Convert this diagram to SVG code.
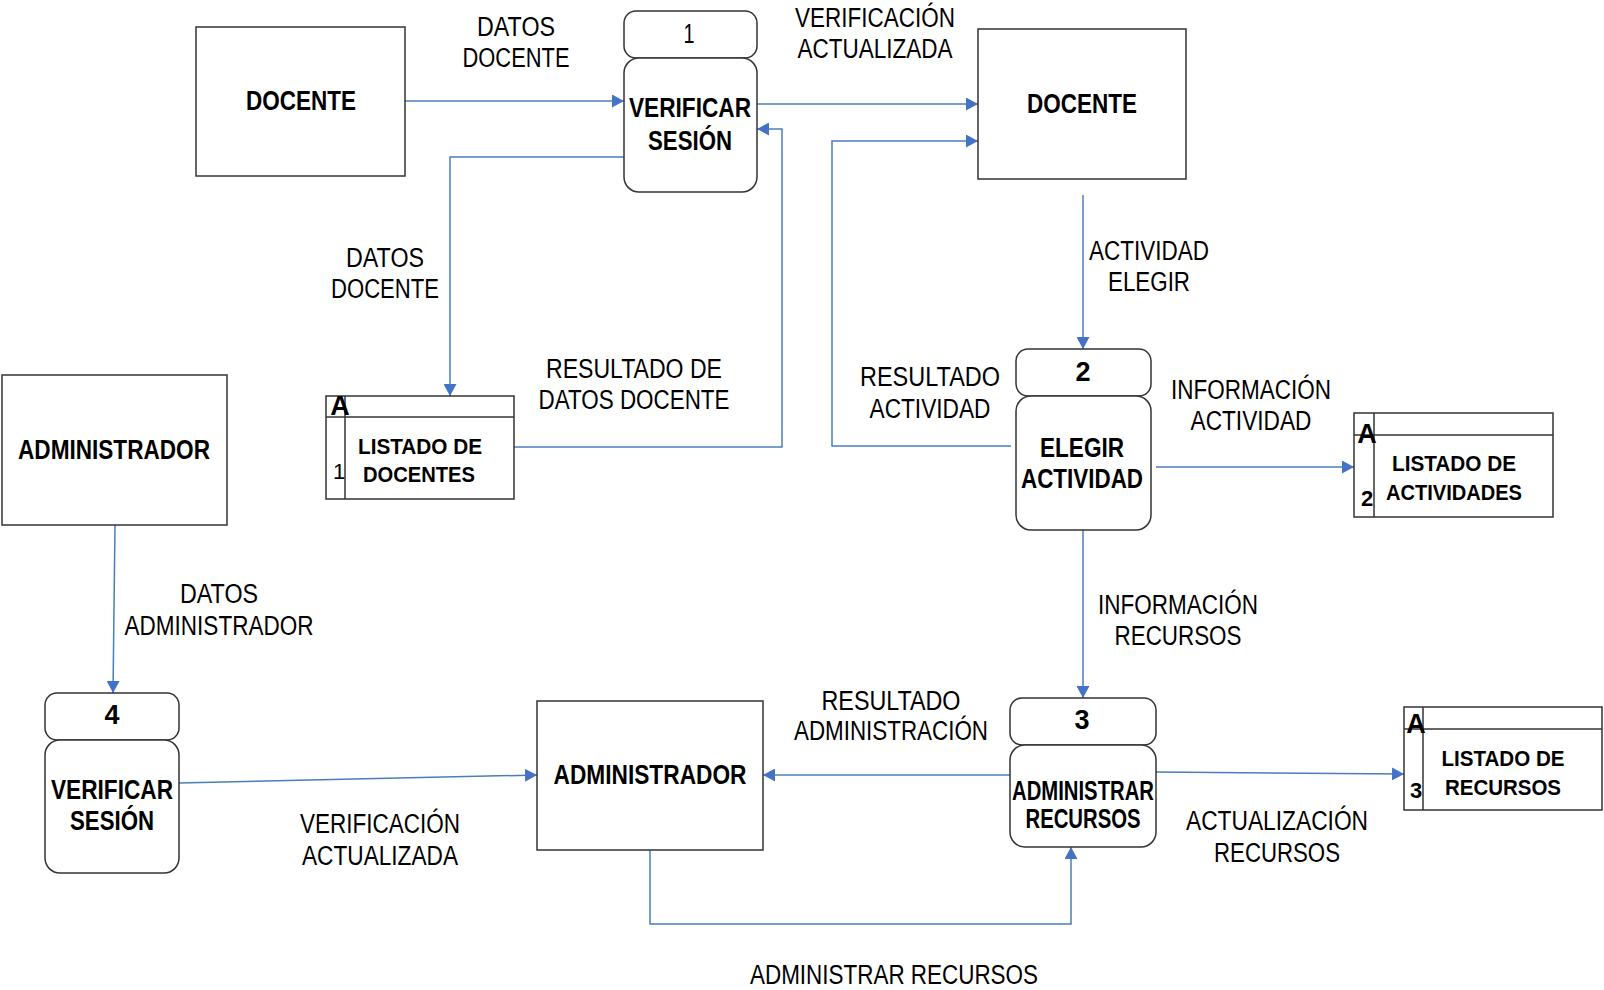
<svg xmlns="http://www.w3.org/2000/svg" width="1604" height="990" viewBox="0 0 1604 990">
<style>
.box{fill:#fff;stroke:#333;stroke-width:1.5}
.c{fill:none;stroke:#4a7ebb;stroke-width:1.5}
.lbl{font-family:"Liberation Sans",Arial,sans-serif;font-size:27px;fill:#000;text-anchor:middle}
.b{font-family:"Liberation Sans",Arial,sans-serif;font-weight:bold;font-size:27px;fill:#000;text-anchor:middle}
.s{font-family:"Liberation Sans",Arial,sans-serif;font-weight:bold;font-size:22px;fill:#000;text-anchor:middle}
.sn{font-family:"Liberation Sans",Arial,sans-serif;font-size:22px;fill:#000;text-anchor:middle}
</style>
<defs>
<marker id="ar" viewBox="0 0 12 13" refX="12" refY="6.5" markerWidth="12" markerHeight="13" markerUnits="userSpaceOnUse" orient="auto">
<path d="M0,0 L12,6.5 L0,13 z" fill="#4472c4"/>
</marker>
</defs>

<g id="connectors">
<path class="c" d="M405,101 H624" marker-end="url(#ar)"/>
<path class="c" d="M757,104 H978" marker-end="url(#ar)"/>
<path class="c" d="M624,157 H450 V396" marker-end="url(#ar)"/>
<path class="c" d="M514,447 H782 V129 H757" marker-end="url(#ar)"/>
<path class="c" d="M1011,446 H832 V141 H978" marker-end="url(#ar)"/>
<path class="c" d="M1083,195 V349" marker-end="url(#ar)"/>
<path class="c" d="M1156,467 H1354" marker-end="url(#ar)"/>
<path class="c" d="M1083,530 V698" marker-end="url(#ar)"/>
<path class="c" d="M1156,772 L1404,774" marker-end="url(#ar)"/>
<path class="c" d="M1010,775 H763" marker-end="url(#ar)"/>
<path class="c" d="M650,850 V924 H1071 V847" marker-end="url(#ar)"/>
<path class="c" d="M115,525 L113,693" marker-end="url(#ar)"/>
<path class="c" d="M179,783 L537,775" marker-end="url(#ar)"/>
</g>

<g id="labels">
<text class="lbl" x="516" y="36" textLength="78" lengthAdjust="spacingAndGlyphs">DATOS</text>
<text class="lbl" x="516" y="67" textLength="107" lengthAdjust="spacingAndGlyphs">DOCENTE</text>
<text class="lbl" x="875" y="27" textLength="160" lengthAdjust="spacingAndGlyphs">VERIFICACIÓN</text>
<text class="lbl" x="875" y="58" textLength="155" lengthAdjust="spacingAndGlyphs">ACTUALIZADA</text>
<text class="lbl" x="385" y="267" textLength="78" lengthAdjust="spacingAndGlyphs">DATOS</text>
<text class="lbl" x="385" y="298" textLength="108" lengthAdjust="spacingAndGlyphs">DOCENTE</text>
<text class="lbl" x="634" y="378" textLength="176" lengthAdjust="spacingAndGlyphs">RESULTADO DE</text>
<text class="lbl" x="634" y="409" textLength="191" lengthAdjust="spacingAndGlyphs">DATOS DOCENTE</text>
<text class="lbl" x="930" y="386" textLength="140" lengthAdjust="spacingAndGlyphs">RESULTADO</text>
<text class="lbl" x="930" y="418" textLength="121" lengthAdjust="spacingAndGlyphs">ACTIVIDAD</text>
<text class="lbl" x="1149" y="260" textLength="120" lengthAdjust="spacingAndGlyphs">ACTIVIDAD</text>
<text class="lbl" x="1149" y="291" textLength="82" lengthAdjust="spacingAndGlyphs">ELEGIR</text>
<text class="lbl" x="1251" y="399" textLength="160" lengthAdjust="spacingAndGlyphs">INFORMACIÓN</text>
<text class="lbl" x="1251" y="430" textLength="121" lengthAdjust="spacingAndGlyphs">ACTIVIDAD</text>
<text class="lbl" x="1178" y="614" textLength="160" lengthAdjust="spacingAndGlyphs">INFORMACIÓN</text>
<text class="lbl" x="1178" y="645" textLength="127" lengthAdjust="spacingAndGlyphs">RECURSOS</text>
<text class="lbl" x="219" y="603" textLength="78" lengthAdjust="spacingAndGlyphs">DATOS</text>
<text class="lbl" x="219" y="635" textLength="189" lengthAdjust="spacingAndGlyphs">ADMINISTRADOR</text>
<text class="lbl" x="891" y="710" textLength="139" lengthAdjust="spacingAndGlyphs">RESULTADO</text>
<text class="lbl" x="891" y="740" textLength="194" lengthAdjust="spacingAndGlyphs">ADMINISTRACIÓN</text>
<text class="lbl" x="380" y="833" textLength="160" lengthAdjust="spacingAndGlyphs">VERIFICACIÓN</text>
<text class="lbl" x="380" y="865" textLength="156" lengthAdjust="spacingAndGlyphs">ACTUALIZADA</text>
<text class="lbl" x="1277" y="830" textLength="182" lengthAdjust="spacingAndGlyphs">ACTUALIZACIÓN</text>
<text class="lbl" x="1277" y="862" textLength="126" lengthAdjust="spacingAndGlyphs">RECURSOS</text>
<text class="lbl" x="894" y="984" textLength="288" lengthAdjust="spacingAndGlyphs">ADMINISTRAR RECURSOS</text>
</g>

<g id="docente1">
<rect class="box" x="196" y="27" width="209" height="149"/>
<text class="b" x="301" y="110" textLength="110" lengthAdjust="spacingAndGlyphs">DOCENTE</text>
</g>

<g id="docente2">
<rect class="box" x="978" y="29" width="208" height="150"/>
<text class="b" x="1082" y="113" textLength="110" lengthAdjust="spacingAndGlyphs">DOCENTE</text>
</g>

<g id="administrador1">
<rect class="box" x="2" y="375" width="225" height="150"/>
<text class="b" x="114" y="459" textLength="192" lengthAdjust="spacingAndGlyphs">ADMINISTRADOR</text>
</g>

<g id="administrador2">
<rect class="box" x="537" y="701" width="226" height="149"/>
<text class="b" x="650" y="784" textLength="193" lengthAdjust="spacingAndGlyphs">ADMINISTRADOR</text>
</g>

<g id="proceso1">
<rect class="box" x="624" y="11" width="133" height="47" rx="12"/>
<rect class="box" x="624" y="58" width="133" height="134" rx="15"/>
<text class="lbl" x="689" y="43" textLength="11" lengthAdjust="spacingAndGlyphs">1</text>
<text class="b" x="690" y="117" textLength="122" lengthAdjust="spacingAndGlyphs">VERIFICAR</text>
<text class="b" x="690" y="150" textLength="84" lengthAdjust="spacingAndGlyphs">SESIÓN</text>
</g>

<g id="proceso2">
<rect class="box" x="1016" y="349" width="135" height="47" rx="12"/>
<rect class="box" x="1016" y="396" width="135" height="134" rx="15"/>
<text class="b" x="1083" y="381">2</text>
<text class="b" x="1082" y="457" textLength="84" lengthAdjust="spacingAndGlyphs">ELEGIR</text>
<text class="b" x="1082" y="488" textLength="122" lengthAdjust="spacingAndGlyphs">ACTIVIDAD</text>
</g>

<g id="proceso3">
<rect class="box" x="1010" y="698" width="146" height="47" rx="12"/>
<rect class="box" x="1010" y="745" width="146" height="102" rx="15"/>
<text class="b" x="1082" y="729">3</text>
<text class="b" x="1083" y="800" font-size="24" textLength="142" lengthAdjust="spacingAndGlyphs">ADMINISTRAR</text>
<text class="b" x="1083" y="828" font-size="24" textLength="115" lengthAdjust="spacingAndGlyphs">RECURSOS</text>
</g>

<g id="proceso4">
<rect class="box" x="45" y="693" width="134" height="47" rx="12"/>
<rect class="box" x="45" y="740" width="134" height="133" rx="15"/>
<text class="b" x="112" y="724">4</text>
<text class="b" x="112" y="799" textLength="122" lengthAdjust="spacingAndGlyphs">VERIFICAR</text>
<text class="b" x="112" y="830" textLength="84" lengthAdjust="spacingAndGlyphs">SESIÓN</text>
</g>

<g id="almacen1">
<rect class="box" x="326" y="396" width="188" height="103"/>
<line class="box" x1="326" y1="417" x2="514" y2="417"/>
<line class="box" x1="345" y1="396" x2="345" y2="499"/>
<text class="b" x="340" y="415" font-size="24">A</text>
<text class="sn" x="339" y="479" font-size="24">1</text>
<text class="s" x="420" y="454" textLength="124" lengthAdjust="spacingAndGlyphs">LISTADO DE</text>
<text class="s" x="419" y="482" textLength="112" lengthAdjust="spacingAndGlyphs">DOCENTES</text>
</g>

<g id="almacen2">
<rect class="box" x="1354" y="413" width="199" height="104"/>
<line class="box" x1="1354" y1="435" x2="1553" y2="435"/>
<line class="box" x1="1374" y1="413" x2="1374" y2="517"/>
<text class="b" x="1367" y="443" font-size="24">A</text>
<text class="s" x="1367" y="506" font-size="24">2</text>
<text class="s" x="1454" y="471" textLength="124" lengthAdjust="spacingAndGlyphs">LISTADO DE</text>
<text class="s" x="1454" y="500" textLength="136" lengthAdjust="spacingAndGlyphs">ACTIVIDADES</text>
</g>

<g id="almacen3">
<rect class="box" x="1404" y="707" width="198" height="103"/>
<line class="box" x1="1404" y1="729" x2="1602" y2="729"/>
<line class="box" x1="1423" y1="707" x2="1423" y2="810"/>
<text class="b" x="1416" y="733" font-size="24">A</text>
<text class="s" x="1416" y="798" font-size="24">3</text>
<text class="s" x="1503" y="766" textLength="123" lengthAdjust="spacingAndGlyphs">LISTADO DE</text>
<text class="s" x="1503" y="795" textLength="116" lengthAdjust="spacingAndGlyphs">RECURSOS</text>
</g>
</svg>
